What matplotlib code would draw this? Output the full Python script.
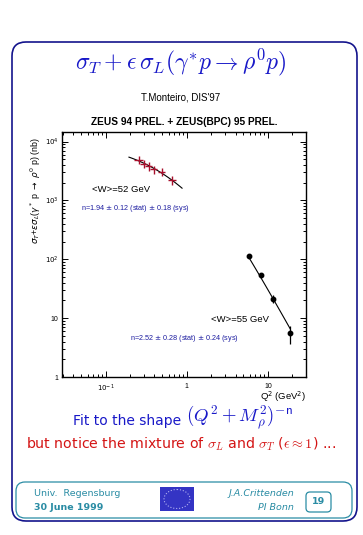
import numpy as np
import matplotlib
matplotlib.use("Agg")
import matplotlib.pyplot as plt
from matplotlib.patches import FancyBboxPatch, Rectangle, Ellipse
from matplotlib.ticker import FixedLocator, LogLocator, NullFormatter

plt.rcParams['font.family'] = ['Liberation Sans', 'DejaVu Sans']
plt.rcParams['mathtext.fontset'] = 'cm'

# ZEUS 94 PREL., <W>=52 GeV (red crosses)
q2_low = [0.255, 0.297, 0.34, 0.394, 0.49, 0.665]
sig_low = [4900, 4200, 3800, 3350, 3020, 2180]
sig_low_err = [800, 650, 600, 520, 470, 380]
q2_low_err = [0.03, 0.03, 0.035, 0.04, 0.05, 0.07]

# ZEUS(BPC) 95 PREL., <W>=55 GeV (black dots)
q2_high = [5.8, 8.26, 11.7, 18.8]
sig_high = [114, 53.5, 21, 5.6]
sig_high_lo = [4, 3, 3.2, 1.9]
sig_high_hi = [4, 3, 3.5, 1.7]

# fit (Q^2 + M_rho^2)^-n
m_rho2 = 0.59
n_low = 1.94
n_high = 2.52
fit_low_range = [0.194, 0.875]
fit_high_range = [5.8, 18.8]

W, H = 363, 535
fig = plt.figure(figsize=(W / 100, H / 100), dpi=100)
fig.patch.set_facecolor('white')

# page layer in pixel units
bg = fig.add_axes([0, 0, 1, 1])
bg.set_xlim(0, W)
bg.set_ylim(H, 0)
bg.axis('off')

navy = '#14148c'
teal = '#2a8ca4'
bg.add_patch(FancyBboxPatch((12, 42), 345, 479, boxstyle='round,pad=0,rounding_size=14',
                            fill=False, ec=navy, lw=1.2))
bg.add_patch(FancyBboxPatch((16, 482), 336, 36, boxstyle='round,pad=0,rounding_size=9',
                            fill=False, ec=teal, lw=0.9))
bg.add_patch(FancyBboxPatch((306, 492), 25, 20, boxstyle='round,pad=0,rounding_size=4',
                            fill=False, ec=teal, lw=0.9))
bg.add_patch(Rectangle((160, 487), 34, 24, fc='#3434c4', ec='none'))
bg.add_patch(Ellipse((177, 499), 26, 19, fill=False, ec='#b0b0f0', lw=0.8, ls=':'))

bg.text(181, 62, r'$\sigma_T + \epsilon\,\sigma_L(\gamma^{*}p \rightarrow \rho^{0}p)$',
        color='#1818c8', fontsize=17, ha='center', va='center')
bg.text(181, 98, "T.Monteiro, DIS'97", fontsize=7, ha='center', va='center')
bg.text(184, 122, 'ZEUS 94 PREL. + ZEUS(BPC) 95 PREL.', fontsize=7.3,
        fontweight='bold', ha='center', va='center')

bg.text(181, 421, 'Fit to the shape', color='#1818c8', fontsize=10,
        family='DejaVu Sans', ha='right', va='center')
bg.text(186, 418, r'$(Q^2 + M_\rho^2)^{-\mathsf{n}}$', color='#1818c8', fontsize=13.5,
        ha='left', va='center')
bg.text(181, 444, r'but notice the mixture of $\sigma_L$ and $\sigma_T$ ($\epsilon \approx 1$) ...',
        color='#d41414', fontsize=10.2, family='DejaVu Sans', ha='center', va='center')

bg.text(34, 493, 'Univ.  Regensburg', color=teal, fontsize=6.8, family='DejaVu Sans', va='center')
bg.text(34, 507, '30 June 1999', color=teal, fontsize=6.8, family='DejaVu Sans',
        fontweight='bold', va='center')
bg.text(294, 493, 'J.A.Crittenden', color=teal, fontsize=6.8, family='DejaVu Sans',
        style='italic', ha='right', va='center')
bg.text(294, 507, 'PI Bonn', color=teal, fontsize=6.8, family='DejaVu Sans',
        style='italic', ha='right', va='center')
bg.text(318.5, 502, '19', color=teal, fontsize=6.8, family='DejaVu Sans',
        fontweight='bold', ha='center', va='center')

# main plot
ax = fig.add_axes([62 / W, 1 - 377 / H, 244 / W, 245 / H])
ax.set_xscale('log')
ax.set_yscale('log')
ax.set_xlim(0.029, 29.5)
ax.set_ylim(1, 14500)

red = '#a8102c'
ax.errorbar(q2_low, sig_low, yerr=sig_low_err, xerr=q2_low_err, fmt='none',
            ecolor=red, elinewidth=1.0, zorder=3)
ax.errorbar(q2_high, sig_high, yerr=[sig_high_lo, sig_high_hi], fmt='o', ms=3.2,
            color='black', elinewidth=0.9, zorder=3)

q_fit = np.geomspace(fit_low_range[0], fit_low_range[1], 50)
a_low = np.exp(np.mean(np.log(sig_low) + n_low * np.log(np.array(q2_low) + m_rho2)))
ax.plot(q_fit, a_low * (q_fit + m_rho2) ** -n_low, color='black', lw=0.8, zorder=2)
q_fit = np.geomspace(fit_high_range[0], fit_high_range[1], 50)
a_high = np.exp(np.mean(np.log(sig_high) + n_high * np.log(np.array(q2_high) + m_rho2)))
ax.plot(q_fit, a_high * (q_fit + m_rho2) ** -n_high, color='black', lw=0.8, zorder=2)

ax.xaxis.set_major_locator(FixedLocator([0.1, 1, 10]))
ax.set_xticklabels([r'$10^{-1}$', '1', '10'])
ax.yaxis.set_major_locator(FixedLocator([1, 10, 100, 1000, 10000]))
ax.set_yticklabels(['1', '10', r'$10^{2}$', r'$10^{3}$', r'$10^{4}$'])
for a in (ax.xaxis, ax.yaxis):
    a.set_minor_locator(LogLocator(base=10, subs=np.arange(2, 10), numticks=20))
    a.set_minor_formatter(NullFormatter())
ax.tick_params(which='both', direction='in', top=True, right=True, labelsize=5.0, width=0.7)
ax.tick_params(which='major', length=4.5, pad=4)
ax.tick_params(axis='y', which='major', pad=2.5)
ax.tick_params(which='minor', length=2.5)
for lab in ax.get_xticklabels() + ax.get_yticklabels():
    lab.set_math_fontfamily('dejavusans')
for s in ax.spines.values():
    s.set_linewidth(1.0)

bg.set_zorder(0)
ax.set_zorder(1)
ax.patch.set_alpha(0)

bg.text(92, 189, '<W>=52 GeV', fontsize=6.8, va='center', zorder=5)
bg.text(81, 208, 'n=1.94 $\\pm$ 0.12 (stat) $\\pm$ 0.18 (sys)', fontsize=5.2,
        color='#1c1ca0', va='center', math_fontfamily='dejavusans', zorder=5)
bg.text(211, 320, '<W>=55 GeV', fontsize=6.8, va='center', zorder=5)
bg.text(130, 338, 'n=2.52 $\\pm$ 0.28 (stat) $\\pm$ 0.24 (sys)', fontsize=5.2,
        color='#1c1ca0', va='center', math_fontfamily='dejavusans', zorder=5)
bg.text(306, 397, r'Q$^2$ (GeV$^2$)', fontsize=6.8, ha='right', va='center',
        math_fontfamily='dejavusans')
bg.text(36, 191, r'$\sigma_T$+$\epsilon\sigma_L$($\gamma^*$ p $\rightarrow$ $\rho^0$ p) (nb)',
        fontsize=6.4, rotation=90, ha='center', va='center', math_fontfamily='dejavusans')

fig.savefig('out.png', dpi=100)
